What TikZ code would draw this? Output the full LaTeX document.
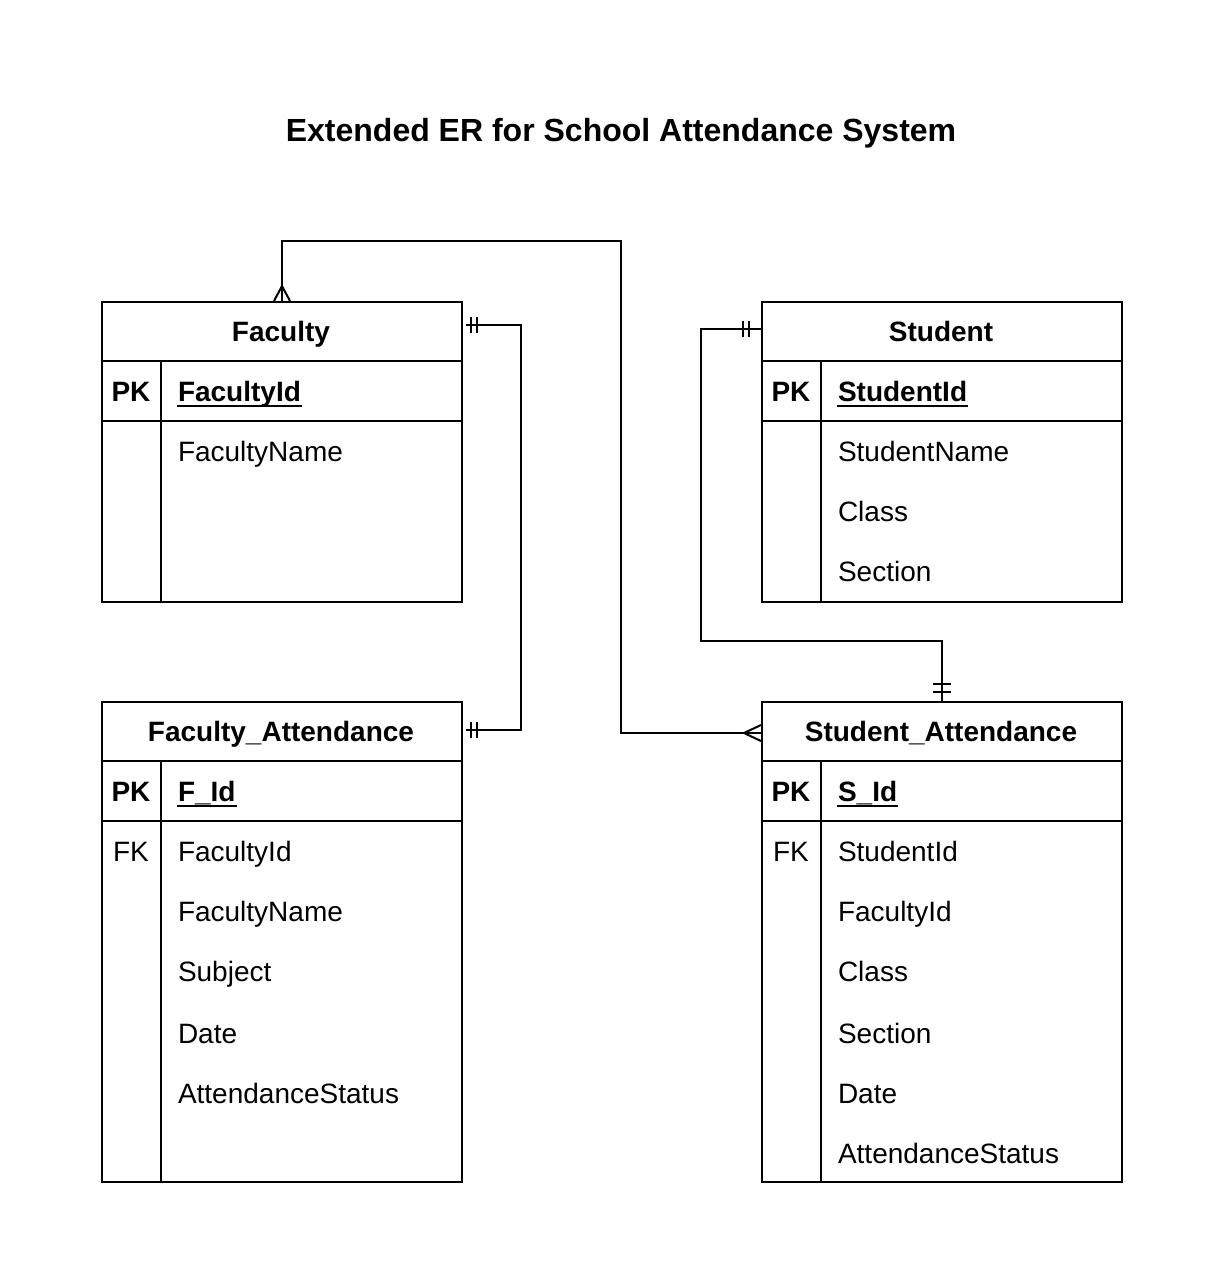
\documentclass[tikz,border=0pt]{standalone}
\usepackage{fontspec}
\setmainfont{Liberation Sans}
\usetikzlibrary{calc}
\begin{document}
\begin{tikzpicture}[x=0.75pt,y=-0.75pt,
  line width=1.5pt,
  box/.style={draw,line width=1.5pt,anchor=north west,minimum width=270pt,inner sep=0pt},
  txt/.style={inner sep=0pt,text height=17.25pt,text depth=2.25pt},
  hdr/.style={txt,font=\fontsize{21}{25}\selectfont\bfseries,anchor=center},
  fld/.style={txt,font=\fontsize{21}{25}\selectfont,anchor=west},
  pkf/.style={fld,font=\fontsize{21}{25}\selectfont\bfseries},
  key/.style={txt,font=\fontsize{21}{25}\selectfont\bfseries,anchor=center},
  fkey/.style={txt,font=\fontsize{21}{25}\selectfont,anchor=center},
  uline/.style={line width=1.6pt},
  conn/.style={line width=1.5pt},
  tick/.style={line width=1.5pt}
]
\useasboundingbox (0,0) rectangle (1222,1282);
\fill[white] (0,0) rectangle (1222,1282);

% title
\node[font=\fontsize{24}{28}\selectfont\bfseries,inner sep=0pt,text height=19pt,text depth=3pt] (title) at (621,131) {Extended ER for School Attendance System};

% ---------- Faculty ----------
\node[box,minimum height=225pt] (fac) at (101,301) {};
\draw (101,361) -- (461,361);
\draw (101,421) -- (461,421);
\draw (161,361) -- (161,601);
\node[hdr] (facT) at (281,331) {Faculty};
\node[key] (facPK) at (131,391) {PK};
\node[pkf] (facF1) at (177,391) {FacultyId};
\draw[uline] ($(facF1.base west)+(0,5)$) -- ($(facF1.base east)+(0,5)$);
\node[fld] (facF2) at (177,451) {FacultyName};

% ---------- Student ----------
\node[box,minimum height=225pt] (stu) at (761,301) {};
\draw (761,361) -- (1121,361);
\draw (761,421) -- (1121,421);
\draw (821,361) -- (821,601);
\node[hdr] (stuT) at (941,331) {Student};
\node[key] (stuPK) at (791,391) {PK};
\node[pkf] (stuF1) at (837,391) {StudentId};
\draw[uline] ($(stuF1.base west)+(0,5)$) -- ($(stuF1.base east)+(0,5)$);
\node[fld] (stuF2) at (837,451) {StudentName};
\node[fld] (stuF3) at (837,511) {Class};
\node[fld] (stuF4) at (837,571) {Section};

% ---------- Faculty_Attendance ----------
\node[box,minimum height=360pt] (fa) at (101,701) {};
\draw (101,761) -- (461,761);
\draw (101,821) -- (461,821);
\draw (161,761) -- (161,1181);
\node[hdr] (faT) at (281,731) {Faculty\_Attendance};
\node[key] (faPK) at (131,791) {PK};
\node[pkf] (faF1) at (177,791) {F\_Id};
\draw[uline] ($(faF1.base west)+(0,5)$) -- ($(faF1.base east)+(0,5)$);
\node[fkey] (faFK) at (131,851) {FK};
\node[fld] (faF2) at (177,851) {FacultyId};
\node[fld] (faF3) at (177,911) {FacultyName};
\node[fld] (faF4) at (177,971) {Subject};
\node[fld] (faF5) at (177,1033) {Date};
\node[fld] (faF6) at (177,1093) {AttendanceStatus};

% ---------- Student_Attendance ----------
\node[box,minimum height=360pt] (sa) at (761,701) {};
\draw (761,761) -- (1121,761);
\draw (761,821) -- (1121,821);
\draw (821,761) -- (821,1181);
\node[hdr] (saT) at (941,731) {Student\_Attendance};
\node[key] (saPK) at (791,791) {PK};
\node[pkf] (saF1) at (837,791) {S\_Id};
\draw[uline] ($(saF1.base west)+(0,5)$) -- ($(saF1.base east)+(0,5)$);
\node[fkey] (saFK) at (791,851) {FK};
\node[fld] (saF2) at (837,851) {StudentId};
\node[fld] (saF3) at (837,911) {FacultyId};
\node[fld] (saF4) at (837,971) {Class};
\node[fld] (saF5) at (837,1033) {Section};
\node[fld] (saF6) at (837,1093) {Date};
\node[fld] (saF7) at (837,1153) {AttendanceStatus};

% ---------- connector coordinates ----------
\coordinate (c1) at (621,241);
\coordinate (saL) at (761,733);
\coordinate (facR) at (466,325);
\coordinate (faR) at (466,730);
\coordinate (c2) at (521,325);
\coordinate (stuL) at (761,329);
\coordinate (c3) at (701,641);

% Faculty (many) -- Student_Attendance (many)
\draw[conn] (fac.north) |- (c1) |- (saL);
\draw[tick] ($(fac.north)+(-8,0)$) -- ($(fac.north)+(0,-15)$) -- ($(fac.north)+(8,0)$);
\draw[tick] ($(saL)+(0,-8)$) -- ($(saL)+(-17,0)$) -- ($(saL)+(0,8)$);

% Faculty (one) -- Faculty_Attendance (one)
\draw[conn] (facR) -- (c2) |- (faR);
\draw[tick] ($(facR)+(5,-8)$) -- ($(facR)+(5,8)$);
\draw[tick] ($(facR)+(11,-8)$) -- ($(facR)+(11,8)$);
\draw[tick] ($(faR)+(5,-8)$) -- ($(faR)+(5,8)$);
\draw[tick] ($(faR)+(11,-8)$) -- ($(faR)+(11,8)$);

% Student (one) -- Student_Attendance (one)
\draw[conn] (stuL) -| (c3) -| (sa.north);
\draw[tick] ($(stuL)+(-12,-8)$) -- ($(stuL)+(-12,8)$);
\draw[tick] ($(stuL)+(-18,-8)$) -- ($(stuL)+(-18,8)$);
\draw[tick] ($(sa.north)+(-9,-9)$) -- ($(sa.north)+(9,-9)$);
\draw[tick] ($(sa.north)+(-9,-17)$) -- ($(sa.north)+(9,-17)$);
\end{tikzpicture}
\end{document}
